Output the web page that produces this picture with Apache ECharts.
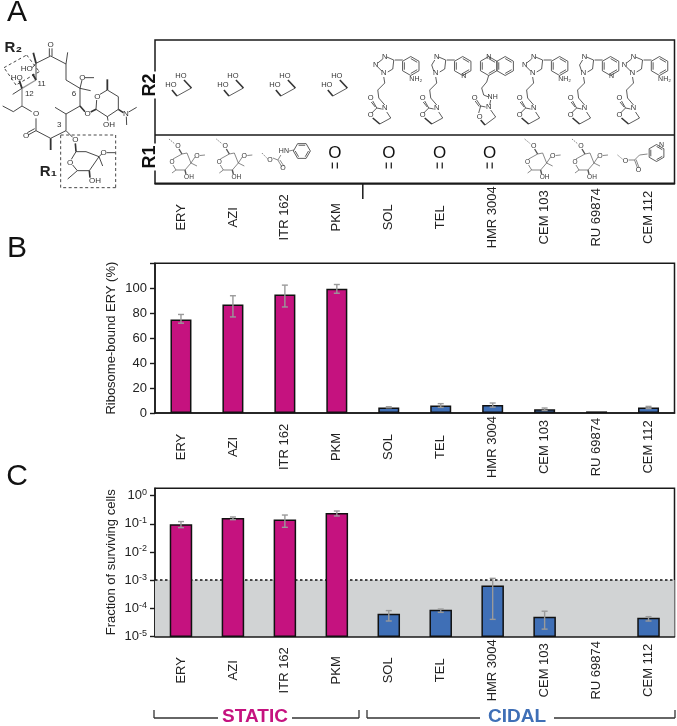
<!DOCTYPE html>
<html><head><meta charset="utf-8">
<script src="https://cdn.jsdelivr.net/npm/echarts@6/dist/echarts.min.js"></script>
<style>html,body{margin:0;padding:0;background:#fff}#c{width:677px;height:726px}</style></head>
<body><div id="c"></div>
<script>
const categories=['ERY','AZI','ITR 162','PKM','SOL','TEL','HMR 3004','CEM 103','RU 69874','CEM 112'];
const staticCount=4;
const boundValues=[75,87,95,99.5,4.5,6,6.5,3,1.3,4.5];
const boundLow=[72,77,85,96,4.2,4.5,4.7,2,null,3.5];
const boundHigh=[79,94,102.5,103,5,7.5,8,4,null,5.3];
const survivalValues=[0.09,0.15,0.133,0.23,5.9e-5,8.2e-5,6e-4,4.7e-5,null,4.3e-5];
const survivalLow=[0.073,0.14,0.075,0.19,3.5e-5,7.1e-5,4e-5,1.8e-5,null,3.5e-5];
const survivalHigh=[0.12,0.175,0.205,0.285,8.2e-5,9.3e-5,1.15e-3,7.8e-5,null,5e-5];
const survivalTicks=[1e-5,1e-4,1e-3,1e-2,1e-1,1];
const survivalThreshold=1e-3;
const survivalMin=1e-5, survivalMax=1.83;
const r1Kind=['sugar','sugar','carbamate','keto','keto','keto','keto','sugar','sugar','pyridyl'];
const r2Kind=['diol','diol','diol','diol','triazole','imidazole','quinoline','triazole','imidazole','triazole'];
const r1Shift=[0,-4.6,0,-2,0,-1,-3,-8,-12.6,0];
const r2Shift=[0,0,0,0,0,0,0,-7,-8,-11];

const MAGENTA='#c5127f',BLUE='#3f6fb6',INK='#1a1a1a',ERR='#9a9a9a',FONT='"Liberation Sans",Arial,sans-serif';
const BAR_W=21;
const errSeries=(low,high,xi,yi)=>({type:'custom',xAxisIndex:xi,yAxisIndex:yi,z:5,silent:true,
  data:categories.map((c,i)=>[i,low[i],high[i]]).filter(d=>d[1]!=null),encode:{x:0,y:[1,2]},
  renderItem(p,api){const a=api.coord([api.value(0),api.value(1)]),b=api.coord([api.value(0),api.value(2)]),st={stroke:ERR,lineWidth:1.4};
    return {type:'group',children:[[a[0],a[1],b[0],b[1]],[a[0]-3,a[1],a[0]+3,a[1]],[b[0]-3,b[1],b[0]+3,b[1]]].map(s=>({type:'line',shape:{x1:s[0],y1:s[1],x2:s[2],y2:s[3]},style:st}))};}});
const barColor=p=>p.dataIndex<staticCount?MAGENTA:BLUE;
const xAxis=g=>({type:'category',gridIndex:g,data:categories,
  axisLine:{lineStyle:{color:INK,width:1.5}},axisTick:{length:7,lineStyle:{color:INK,width:1.5}},
  axisLabel:{rotate:90,align:'center',verticalAlign:'middle',margin:34,color:'#222',fontSize:13,fontFamily:FONT,interval:0,padding:[4,0,0,0]}});
const yBase={axisLine:{show:true,lineStyle:{color:INK,width:1.5}},axisTick:{show:true,length:5,lineStyle:{color:INK,width:1.4}},splitLine:{show:false},
  axisLabel:{color:'#222',fontSize:13,fontFamily:FONT,margin:8},nameLocation:'middle',nameGap:37,nameMoveOverlap:false,nameTextStyle:{color:'#222',fontSize:13,fontFamily:FONT}};
const frame={show:true,borderColor:INK,borderWidth:1.5,backgroundColor:'transparent'};

const chart=echarts.init(document.getElementById('c'),null,{renderer:'canvas'});
chart.setOption({animation:false,backgroundColor:'#fff',
 grid:[{left:155,right:2.5,top:40,height:143.3,...frame},{left:155,right:2.5,top:263.3,height:149.7,...frame},{left:155,right:2.5,top:488.3,height:148,...frame}],
 xAxis:[xAxis(0),xAxis(1),xAxis(2)],
 yAxis:[{type:'value',gridIndex:0,min:0,max:1,show:false},
  {...yBase,type:'value',gridIndex:1,min:0,max:120,interval:20,name:'Ribosome-bound ERY (%)',
    axisLabel:{...yBase.axisLabel,formatter:v=>v>100?'':String(v)}},
  {...yBase,type:'log',logBase:10,gridIndex:2,min:survivalMin,max:survivalMax,name:'Fraction of surviving cells',
    axisTick:{...yBase.axisTick,customValues:survivalTicks},
    axisLabel:{...yBase.axisLabel,customValues:survivalTicks,formatter:v=>'10{s|'+Math.round(Math.log10(v))+'}',
      rich:{s:{fontSize:9,fontFamily:FONT,color:'#222',verticalAlign:'top',padding:[0,0,6,0]}}}}],
 series:[
  {type:'bar',xAxisIndex:1,yAxisIndex:1,data:boundValues,barWidth:BAR_W,z:3,itemStyle:{color:barColor,borderColor:'#111',borderWidth:1.5}},
  errSeries(boundLow,boundHigh,1,1),
  {type:'custom',xAxisIndex:2,yAxisIndex:2,z:2,silent:true,data:[[0,survivalThreshold]],encode:{x:0,y:1},
    renderItem(p,api){const y=api.coord([0,api.value(1)])[1],r=p.coordSys;
      return {type:'line',shape:{x1:r.x,y1:y,x2:r.x+r.width,y2:y},style:{stroke:'#111',lineWidth:1.5,lineDash:[2.5,2.5]}};}},
  {type:'custom',xAxisIndex:2,yAxisIndex:2,z:3,silent:true,
    data:categories.map((c,i)=>[i,survivalValues[i]]).filter(d=>d[1]!=null),encode:{x:0,y:1},
    renderItem(p,api){const i=api.value(0),t=api.coord([i,api.value(1)]),b=api.coord([i,survivalMin]);
      return {type:'rect',shape:{x:t[0]-BAR_W/2,y:t[1],width:BAR_W,height:b[1]-t[1]},style:{fill:i<staticCount?MAGENTA:BLUE,stroke:'#111',lineWidth:1.5}};},
    markArea:{silent:true,z:1,itemStyle:{color:'#d1d3d4'},data:[[{yAxis:survivalThreshold},{yAxis:survivalMin}]]}},
  errSeries(survivalLow,survivalHigh,2,2)
 ]});

/* ---------- chemistry line art (panel A), offsets in px from a column centre ---------- */
const G=[];const CHEM='#333';
const seg=(x1,y1,x2,y2,w,col,dash)=>G.push({type:'line',silent:true,z:10,shape:{x1,y1,x2,y2},style:{stroke:col||CHEM,lineWidth:w||0.8,lineDash:dash||null}});
const txt=(x,y,t,size,o)=>G.push({type:'text',silent:true,z:11,x,y,rotation:(o&&o.rot)||0,style:Object.assign({text:t,font:`${(o&&o.weight)||'normal'} ${size}px "Liberation Sans",Arial,sans-serif`,fill:(o&&o.fill)||CHEM,align:'center',verticalAlign:'middle'},(o&&o.extra)||{})});
const poly=(cx,cy,pts,w,col)=>{for(let i=1;i<pts.length;i++)seg(cx+pts[i-1][0],cy+pts[i-1][1],cx+pts[i][0],cy+pts[i][1],w,col);};
const ring=(cx,cy,r,rot)=>{const p=[];for(let i=0;i<=6;i++){const a=rot+i*Math.PI/3;p.push([cx+r*Math.cos(a),cy+r*Math.sin(a)]);}
  poly(0,0,p);for(let i=0;i<6;i+=2){const a=rot+i*Math.PI/3,b=rot+(i+1)*Math.PI/3,k=0.78;seg(cx+k*r*Math.cos(a),cy+k*r*Math.sin(a),cx+k*r*Math.cos(b),cy+k*r*Math.sin(b));}};
const draw={
 diol(c){txt(c,76,'HO',7.5);txt(c-10,85,'HO',7.5);seg(c+3,80,c+10.5,88,1.6);poly(c,0,[[10.5,88],[-4,96]]);seg(c-4,96,c-9,90,1.6);},
 oxazolidinone(c,top){poly(c,0,[[-5,top],[-4,top+6],[-11,top+13],[-10,top+21],[-4,top+28]]);
  txt(c-4,top+31,'N',7.5);txt(c-18,top+21,'O',7.5);txt(c-18,top+38,'O',7.5);
  poly(c,0,[[-7,top+32],[-12,top+31],[-17,top+36]]);seg(c-12,top+31,c-16,top+24);seg(c-13.5,top+30,c-17.5,top+25);
  seg(c-16,top+41,c-9,top+47,1.6);poly(c,0,[[-9,top+47],[2,top+41],[-2,top+35]]);},
 triazole(c){txt(c-4,57,'N',7.5);txt(c-13,65,'N',7.5);txt(c-5,73,'N',7.5);seg(c-6,59,c-11,63);seg(c-11,67,c-7,71);
  poly(c,0,[[-1,72],[4,69],[5,60],[-2,57]]);seg(c+6,60,c+14,60);ring(c+22,66,9.5,Math.PI/6);txt(c+27,79,'NH₂',7);this.oxazolidinone(c,77);},
 imidazole(c){txt(c-4,57,'N',7.5);txt(c-5,73,'N',7.5);seg(c-6,60,c-9,65);seg(c-9,65,c-7,71);
  poly(c,0,[[-1,72],[4,69],[5,60],[-2,57]]);seg(c+6,60,c+14,60);ring(c+22,66,9.5,Math.PI/6);txt(c+23,76.5,'N',7);this.oxazolidinone(c,77);},
 quinoline(c){ring(c-4,66,9.5,Math.PI/6);ring(c+12.5,66,9.5,Math.PI/6);txt(c-4,57,'N',7);poly(c,0,[[-4,75.5],[-6,82],[-11,88],[-9,95],[-4,97]]);
  txt(c,97,'NH',7);seg(c-2,100,c-3,105);txt(c-4,107,'N',7.5);txt(c-18,98,'O',7.5);txt(c-13,117,'O',7.5);
  poly(c,0,[[-7,107],[-12,106],[-14,113]]);seg(c-12,106,c-16,100);seg(c-13.5,106.5,c-17.5,101);seg(c-12,120,c-7.7,125,1.6);poly(c,0,[[-7.7,125],[3,117],[-2,110]]);},
 sugar(c){seg(c-12,139,c-6,144,0.7,'#555',[1.5,1]);txt(c-3,146,'O',7);seg(c-2,149,c+1,154,1.4,'#555');
  poly(c,0,[[1,154],[6,153],[10,163],[4,170],[-5,170],[-8,165]],0.7,'#555');seg(c-8,159,c+1,154,0.7,'#555');txt(c-9,162,'O',6.5);
  seg(c+10,163,c+14,157,0.7,'#555');txt(c+16,156,'O',7);seg(c+19,155.5,c+24,155,0.7,'#555');seg(c+10,163,c+16,166,0.7,'#555');
  seg(c+4,170,c+5,174,1.4,'#555');txt(c+8,177,'OH',6.5);seg(c-5,170,c-9,173,0.7,'#555');},
 carbamate(c){seg(c-23,153,c-17,159,0.7,'#555',[1.5,1]);txt(c-15,160,'O',7);poly(c,0,[[-12,158],[-7,160]],0.7,'#555');seg(c-7,160,c-3,167,0.7,'#555');seg(c-5,160,c-1,166,0.7,'#555');txt(c-2,168,'O',7);
  seg(c-7,160,c-4,155,0.7,'#555');txt(c-1,151,'HN',7);seg(c+4,151,c+9,150,0.7,'#555');ring(c+17,151,8.5,0);},
 keto(c){txt(c,153.5,'O',17,{fill:'#111'});seg(c-2.5,162.5,c-2.5,168.5,1.2,'#111');seg(c+2.5,162.5,c+2.5,168.5,1.2,'#111');},
 pyridyl(c){seg(c-31,155,c-25,160,0.7,'#555',[1.5,1]);txt(c-23,161,'O',7);poly(c,0,[[-20,160],[-14,160],[-9,155],[-1,154]],0.7,'#555');seg(c-14,160,c-11,168,0.7,'#555');seg(c-12.5,159.5,c-9.5,167.5,0.7,'#555');txt(c-10,170,'O',7);ring(c+8,153,8.5,Math.PI/6);txt(c+13,145,'N',7);}
};
function macrolide(){
 const k=1/3,P=(pts,w,col)=>poly(0,0,pts.map(p=>[p[0]*k,p[1]*k]),w||0.9,col),T=(u,v,t,s,o)=>txt(u*k,v*k,t,s,o);
 P([[108,240],[108,190],[152,168],[198,192],[198,240],[240,265],[240,318],[198,342],[198,392],[152,415],[108,392],[108,355]]);
 P([[95,335],[66,318]]);P([[66,318],[66,265]],1.4,'#999');P([[66,265],[108,240]],1.4,'#999');
 P([[66,318],[40,335],[8,318]]);
 P([[148,145],[148,168]]);P([[156,145],[156,168]]);T(152,133,'O',8);
 P([[108,392],[84,405]]);P([[104,386],[82,398]]);T(78,407,'O',8);T(108,342,'O',8);
 P([[108,190],[100,158]],1.8);T(80,205,'HO',8);P([[108,190],[97,203]]);
 P([[108,240],[98,222]],1.8);T(125,252,'11',8);T(50,234,'HO',8);P([[66,265],[58,242]],1.8);P([[66,265],[38,283]],0.9,undefined);T(88,280,'12',8);
 P([[198,192],[203,157]]);P([[240,265],[246,240]]);T(247,233,'O',8);P([[255,233],[282,233]]);P([[240,265],[272,272]]);T(222,280,'6',8);
 P([[198,342],[165,322]]);P([[240,318],[255,335]],1.6);T(263,342,'O',8);P([[272,336],[288,328]],1.6);
 P([[288,328],[290,300]]);T(292,290,'O',8);P([[300,283],[322,270],[355,290],[355,328],[322,350],[288,328]]);
 P([[322,270],[322,238]],1.8);P([[355,328],[370,338]],1.6);T(378,342,'N',8);P([[386,336],[410,322]]);P([[379,350],[380,375]]);P([[322,350],[324,362]]);T(327,374,'OH',8);
 T(178,375,'3',8);P([[198,392],[218,412]]);T(226,420,'O',8);P([[152,415],[152,450]],1.8);P([[226,430],[228,455]],1.6);
 P([[228,455],[258,455],[297,470],[268,512],[232,512],[218,495]]);P([[228,455],[214,478]]);T(210,487,'O',8);
 P([[297,470],[305,462]]);T(311,459,'O',8);P([[320,458],[345,458]]);P([[297,470],[308,498]]);P([[268,512],[270,533]],1.6);T(285,543,'OH',8);P([[232,512],[203,537]]);
 P([[182,405],[347,405],[347,563],[182,563],[182,405]],0.9);
 P([[12,203],[80,165],[118,215],[48,255],[12,203]],0.9);
 G.splice(G.length-8,8,...G.slice(G.length-8).map(e=>{e.style.lineDash=[3,2.5];return e;}));
 T(40,143,'R₂',15,{weight:'bold',fill:'#222'});T(145,517,'R₁',15,{weight:'bold',fill:'#222'});
}
macrolide();
const centre=i=>chart.convertToPixel({xAxisIndex:0},i);
categories.forEach((c,i)=>{const x=centre(i);draw[r2Kind[i]](x+r2Shift[i]);draw[r1Kind[i]](x+r1Shift[i]);});
/* table divider, long tick between classes */
const grid0=chart.getModel().getComponent('grid',0).coordinateSystem.getRect();
seg(grid0.x,135,grid0.x+grid0.width,135,1.5,INK);
const boundary=(centre(staticCount-1)+centre(staticCount))/2;
seg(boundary,183,boundary,199,1.5,INK);
txt(150,85,'R2',18,{weight:'bold',fill:'#111',rot:Math.PI/2,extra:{backgroundColor:'#fff',padding:[0,2]}});
txt(150,157,'R1',18,{weight:'bold',fill:'#111',rot:Math.PI/2,extra:{backgroundColor:'#fff',padding:[0,2]}});
/* panel letters */
[['A',17,13],['B',17,249],['C',17,477]].forEach(l=>txt(l[1],l[2],l[0],30,{fill:'#111'}));
/* class brackets */
const bracket=(x1,x2,tx,t,col)=>{poly(0,0,[[x1,710],[x1,718],[tx-37,718]],1.3,'#333');poly(0,0,[[tx+37,718],[x2,718],[x2,710]],1.3,'#333');txt(tx,717,t,19,{weight:'bold',fill:col});};
bracket(154,359,255,'STATIC',MAGENTA);bracket(367,675,517,'CIDAL',BLUE);
chart.setOption({graphic:G});
</script></body></html>
